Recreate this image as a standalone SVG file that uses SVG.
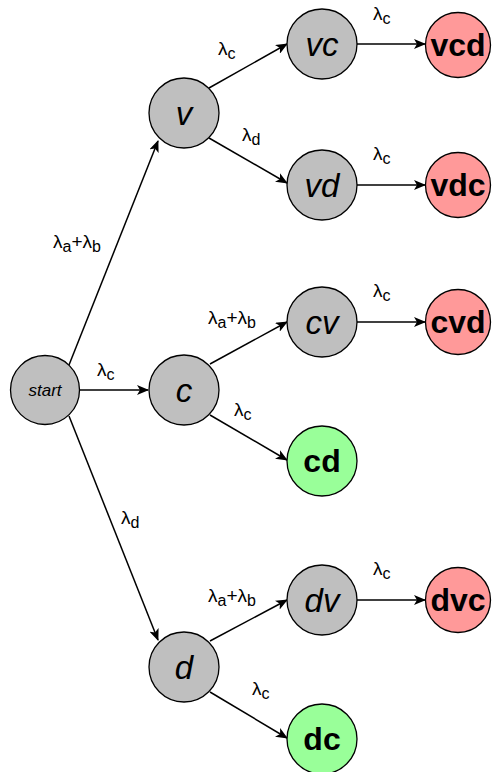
<svg xmlns="http://www.w3.org/2000/svg" width="493" height="772" viewBox="0 0 493 772">
  <style>
    .node { stroke: #000; stroke-width: 1.3; }
    .gray { fill: #bfbfbf; }
    .red { fill: #ff9999; }
    .green { fill: #99ff99; }
    .state { font-family: "Liberation Sans", Arial, sans-serif; font-style: italic; font-size: 33px; text-anchor: middle; dominant-baseline: central; }
    .final { font-family: "Liberation Sans", Arial, sans-serif; font-weight: bold; font-size: 32px; text-anchor: middle; dominant-baseline: central; }
    .start { font-family: "Liberation Sans", Arial, sans-serif; font-style: italic; font-size: 17px; text-anchor: middle; dominant-baseline: central; }
    .edge { stroke: #000; stroke-width: 1.5; fill: none; marker-end: url(#arrow); }
    .rate { font-family: "Liberation Sans", Arial, sans-serif; font-size: 19px; fill: #000; }
    .sub { font-size: 16px; }
  </style>
  <defs>
    <marker id="arrow" viewBox="0 0 12 10" refX="11" refY="5" markerWidth="12" markerHeight="10" markerUnits="userSpaceOnUse" orient="auto">
      <path d="M0,0 L12,5 L0,10 L3,5 z" fill="#000"/>
    </marker>
  </defs>

  <!-- transitions -->
  <g id="connectors">
    <line class="edge" x1="69" y1="365" x2="158" y2="141"/>
    <line class="edge" x1="80" y1="390" x2="148" y2="390"/>
    <line class="edge" x1="69" y1="416" x2="158" y2="640"/>
    <line class="edge" x1="209" y1="88" x2="287" y2="44"/>
    <line class="edge" x1="209" y1="138" x2="287" y2="183"/>
    <line class="edge" x1="357" y1="44" x2="425" y2="44"/>
    <line class="edge" x1="357" y1="185" x2="425" y2="185"/>
    <line class="edge" x1="210" y1="364" x2="287" y2="322"/>
    <line class="edge" x1="210" y1="415" x2="287" y2="460"/>
    <line class="edge" x1="357" y1="322" x2="425" y2="322"/>
    <line class="edge" x1="210" y1="641" x2="287" y2="600"/>
    <line class="edge" x1="210" y1="692" x2="287" y2="738"/>
    <line class="edge" x1="357" y1="600" x2="425" y2="600"/>

    <text class="rate" x="53" y="248">λ<tspan class="sub" dy="4">a</tspan><tspan dy="-4">+λ</tspan><tspan class="sub" dy="4">b</tspan></text>
    <text class="rate" x="97" y="376">λ<tspan class="sub" dy="4">c</tspan></text>
    <text class="rate" x="121" y="524">λ<tspan class="sub" dy="4">d</tspan></text>
    <text class="rate" x="218" y="55">λ<tspan class="sub" dy="4">c</tspan></text>
    <text class="rate" x="242" y="141">λ<tspan class="sub" dy="4">d</tspan></text>
    <text class="rate" x="373" y="20">λ<tspan class="sub" dy="4">c</tspan></text>
    <text class="rate" x="373" y="160">λ<tspan class="sub" dy="4">c</tspan></text>
    <text class="rate" x="208" y="324">λ<tspan class="sub" dy="4">a</tspan><tspan dy="-4">+λ</tspan><tspan class="sub" dy="4">b</tspan></text>
    <text class="rate" x="234" y="416">λ<tspan class="sub" dy="4">c</tspan></text>
    <text class="rate" x="373" y="297">λ<tspan class="sub" dy="4">c</tspan></text>
    <text class="rate" x="208" y="602">λ<tspan class="sub" dy="4">a</tspan><tspan dy="-4">+λ</tspan><tspan class="sub" dy="4">b</tspan></text>
    <text class="rate" x="252" y="695">λ<tspan class="sub" dy="4">c</tspan></text>
    <text class="rate" x="373" y="575">λ<tspan class="sub" dy="4">c</tspan></text>
  </g>

  <g id="start"><circle class="node gray" cx="45" cy="390" r="34.5"/><text class="start" x="45" y="390">start</text></g>
  <g id="v"><circle class="node gray" cx="184" cy="113" r="35"/><text class="state" x="184" y="113">v</text></g>
  <g id="c"><circle class="node gray" cx="184" cy="390" r="35"/><text class="state" x="184" y="390">c</text></g>
  <g id="d"><circle class="node gray" cx="184" cy="667" r="35"/><text class="state" x="184" y="667">d</text></g>
  <g id="vc"><circle class="node gray" cx="322" cy="44" r="35"/><text class="state" x="322" y="44">vc</text></g>
  <g id="vd"><circle class="node gray" cx="322" cy="185" r="35"/><text class="state" x="322" y="185">vd</text></g>
  <g id="cv"><circle class="node gray" cx="322" cy="322" r="35"/><text class="state" x="322" y="322">cv</text></g>
  <g id="dv"><circle class="node gray" cx="322" cy="600" r="35"/><text class="state" x="322" y="600">dv</text></g>
  <g id="cd"><circle class="node green" cx="322" cy="461" r="35"/><text class="final" x="322" y="461">cd</text></g>
  <g id="dc"><circle class="node green" cx="322" cy="739" r="35"/><text class="final" x="322" y="739">dc</text></g>
  <g id="vcd"><circle class="node red" cx="458" cy="45" r="32.5"/><text class="final" x="458" y="45">vcd</text></g>
  <g id="vdc"><circle class="node red" cx="458" cy="185" r="32.5"/><text class="final" x="458" y="185">vdc</text></g>
  <g id="cvd"><circle class="node red" cx="458" cy="322" r="32.5"/><text class="final" x="458" y="322">cvd</text></g>
  <g id="dvc"><circle class="node red" cx="458" cy="600" r="32.5"/><text class="final" x="458" y="600">dvc</text></g>
</svg>
